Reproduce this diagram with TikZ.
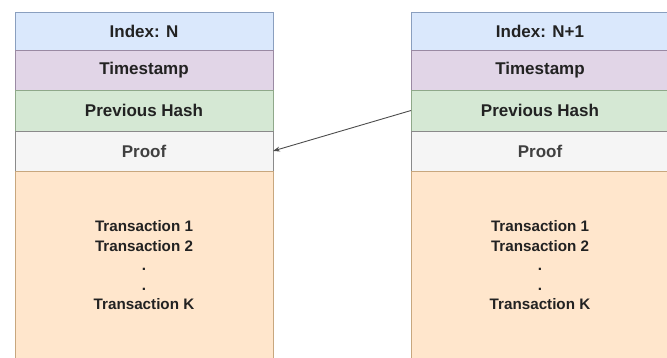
\documentclass[tikz,border=0pt]{standalone}
\usepackage{fontspec}
\setmainfont{Liberation Sans}
\usetikzlibrary{positioning,arrows.meta}
\definecolor{idxfill}{HTML}{DAE8FC}
\definecolor{idxline}{HTML}{8A9FBF}
\definecolor{timefill}{HTML}{E1D5E7}
\definecolor{timeline}{HTML}{9A8AA3}
\definecolor{prevfill}{HTML}{D5E8D4}
\definecolor{prevline}{HTML}{8FA88A}
\definecolor{prooffill}{HTML}{F5F5F5}
\definecolor{proofline}{HTML}{8A8A8A}
\definecolor{txfill}{HTML}{FFE6CC}
\definecolor{txline}{HTML}{C8A77E}
\definecolor{txtcol}{HTML}{222222}
\tikzset{
  field/.style={rectangle, draw, line width=0.9pt, minimum width=258pt,
    inner sep=0pt, outer sep=0pt, text=txtcol,
    font=\fontsize{17}{20}\selectfont\bfseries},
  idxrow/.style={field, fill=idxfill, draw=idxline, minimum height=38pt},
  timerow/.style={field, fill=timefill, draw=timeline, minimum height=40pt},
  prevrow/.style={field, fill=prevfill, draw=prevline, minimum height=41pt},
  proofrow/.style={field, fill=prooffill, draw=proofline, minimum height=40pt,
    text=black!75},
  txrow/.style={field, fill=txfill, draw=txline, minimum height=189pt,
    align=center, font=\fontsize{15.2}{19.5}\selectfont\bfseries},
  link/.style={draw=black!70, line width=0.9pt, -{Stealth[length=7pt,width=5pt]}}
}
\begin{document}
\begin{tikzpicture}[x=1pt,y=-1pt]
  \useasboundingbox (0,0) rectangle (667,358);
  % block N
  \node[idxrow, anchor=north west] (l1) at (15,12) {Index: N};
  \node[timerow, below=0pt of l1] (l2) {Timestamp};
  \node[prevrow, below=0pt of l2] (l3) {Previous Hash};
  \node[proofrow, below=0pt of l3] (l4) {Proof};
  \node[txrow, below=0pt of l4] (l5) {Transaction 1\\Transaction 2\\.\\.\\Transaction K};
  % block N+1
  \node[idxrow, anchor=north west] (r1) at (411,12) {Index: N+1};
  \node[timerow, below=0pt of r1] (r2) {Timestamp};
  \node[prevrow, below=0pt of r2] (r3) {Previous Hash};
  \node[proofrow, below=0pt of r3] (r4) {Proof};
  \node[txrow, below=0pt of r4] (r5) {Transaction 1\\Transaction 2\\.\\.\\Transaction K};
  % hash link
  \draw[link] (r3.west) -- (l4.east);
\end{tikzpicture}
\end{document}
